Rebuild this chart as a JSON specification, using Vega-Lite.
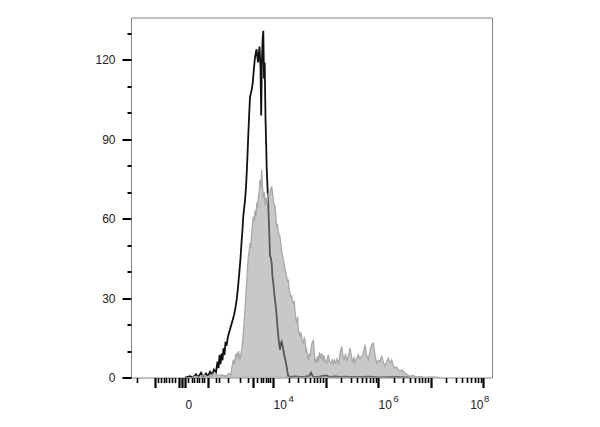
{
  "$schema": "https://vega.github.io/schema/vega-lite/v6.json",
  "autosize": {"type": "none"},
  "padding": {"left": 131, "top": 17.5, "right": 108, "bottom": 49.5},
  "width": 361,
  "height": 360,
  "background": "white",
  "config": {
    "view": {"stroke": "#858585", "strokeWidth": 1},
    "font": "Liberation Sans",
    "axis": {"labelFont": "Liberation Sans", "labelColor": "#222222", "tickColor": "#000000", "domain": false, "grid": false, "title": null}
  },
  "resolve": {"axis": {"x": "independent"}},
  "datasets": {
    "hist": [
      {"series": "control", "x": 2.324, "count": 0},
      {"series": "control", "x": 2.419, "count": 0.5},
      {"series": "control", "x": 2.476, "count": 0},
      {"series": "control", "x": 2.533, "count": 1.2},
      {"series": "control", "x": 2.571, "count": 0},
      {"series": "control", "x": 2.629, "count": 1.8},
      {"series": "control", "x": 2.667, "count": 0.3},
      {"series": "control", "x": 2.724, "count": 1.5},
      {"series": "control", "x": 2.762, "count": 0.4},
      {"series": "control", "x": 2.8, "count": 2.2},
      {"series": "control", "x": 2.838, "count": 1.0},
      {"series": "control", "x": 2.876, "count": 3.0},
      {"series": "control", "x": 2.914, "count": 2.0},
      {"series": "control", "x": 2.943, "count": 6.0},
      {"series": "control", "x": 2.962, "count": 3.5},
      {"series": "control", "x": 2.981, "count": 8.5},
      {"series": "control", "x": 3.0, "count": 5.0},
      {"series": "control", "x": 3.019, "count": 9.0},
      {"series": "control", "x": 3.038, "count": 6.5},
      {"series": "control", "x": 3.057, "count": 11.0},
      {"series": "control", "x": 3.076, "count": 8.5},
      {"series": "control", "x": 3.095, "count": 13.5},
      {"series": "control", "x": 3.114, "count": 12.0},
      {"series": "control", "x": 3.143, "count": 15.5},
      {"series": "control", "x": 3.171, "count": 17.5},
      {"series": "control", "x": 3.2, "count": 19.5},
      {"series": "control", "x": 3.229, "count": 21.5},
      {"series": "control", "x": 3.257, "count": 23.5},
      {"series": "control", "x": 3.286, "count": 26.5},
      {"series": "control", "x": 3.309, "count": 29.5},
      {"series": "control", "x": 3.333, "count": 34},
      {"series": "control", "x": 3.358, "count": 39.5},
      {"series": "control", "x": 3.381, "count": 45},
      {"series": "control", "x": 3.404, "count": 52},
      {"series": "control", "x": 3.419, "count": 56},
      {"series": "control", "x": 3.434, "count": 61},
      {"series": "control", "x": 3.451, "count": 64},
      {"series": "control", "x": 3.467, "count": 67},
      {"series": "control", "x": 3.486, "count": 72},
      {"series": "control", "x": 3.499, "count": 77},
      {"series": "control", "x": 3.514, "count": 84},
      {"series": "control", "x": 3.53, "count": 92},
      {"series": "control", "x": 3.543, "count": 98},
      {"series": "control", "x": 3.562, "count": 106},
      {"series": "control", "x": 3.587, "count": 108},
      {"series": "control", "x": 3.613, "count": 111},
      {"series": "control", "x": 3.634, "count": 116},
      {"series": "control", "x": 3.657, "count": 121},
      {"series": "control", "x": 3.686, "count": 124},
      {"series": "control", "x": 3.714, "count": 119},
      {"series": "control", "x": 3.743, "count": 125},
      {"series": "control", "x": 3.762, "count": 117},
      {"series": "control", "x": 3.775, "count": 99},
      {"series": "control", "x": 3.787, "count": 118},
      {"series": "control", "x": 3.8, "count": 127},
      {"series": "control", "x": 3.815, "count": 131},
      {"series": "control", "x": 3.829, "count": 113},
      {"series": "control", "x": 3.842, "count": 119},
      {"series": "control", "x": 3.857, "count": 98},
      {"series": "control", "x": 3.87, "count": 88},
      {"series": "control", "x": 3.88, "count": 79},
      {"series": "control", "x": 3.895, "count": 72},
      {"series": "control", "x": 3.91, "count": 65},
      {"series": "control", "x": 3.928, "count": 55},
      {"series": "control", "x": 3.943, "count": 46},
      {"series": "control", "x": 3.962, "count": 45},
      {"series": "control", "x": 3.975, "count": 43},
      {"series": "control", "x": 3.99, "count": 38},
      {"series": "control", "x": 4.006, "count": 35.7},
      {"series": "control", "x": 4.023, "count": 32},
      {"series": "control", "x": 4.038, "count": 29.3},
      {"series": "control", "x": 4.057, "count": 26},
      {"series": "control", "x": 4.07, "count": 23},
      {"series": "control", "x": 4.086, "count": 19},
      {"series": "control", "x": 4.101, "count": 15.5},
      {"series": "control", "x": 4.118, "count": 12.5},
      {"series": "control", "x": 4.133, "count": 10.5},
      {"series": "control", "x": 4.149, "count": 13},
      {"series": "control", "x": 4.166, "count": 13.6},
      {"series": "control", "x": 4.181, "count": 12},
      {"series": "control", "x": 4.196, "count": 10.5},
      {"series": "control", "x": 4.219, "count": 8},
      {"series": "control", "x": 4.248, "count": 5.5},
      {"series": "control", "x": 4.272, "count": 2.5},
      {"series": "control", "x": 4.291, "count": 0.5},
      {"series": "control", "x": 4.343, "count": 0.2},
      {"series": "control", "x": 4.419, "count": 0.4},
      {"series": "control", "x": 4.514, "count": 0.2},
      {"series": "control", "x": 4.61, "count": 0.3},
      {"series": "control", "x": 4.686, "count": 0.5},
      {"series": "control", "x": 4.724, "count": 1.8},
      {"series": "control", "x": 4.762, "count": 0.3},
      {"series": "control", "x": 4.857, "count": 0.2},
      {"series": "control", "x": 4.933, "count": 0.5},
      {"series": "control", "x": 5.01, "count": 0.8},
      {"series": "control", "x": 5.086, "count": 0.2},
      {"series": "control", "x": 5.181, "count": 0.4},
      {"series": "control", "x": 5.276, "count": 0.2},
      {"series": "control", "x": 5.371, "count": 0.3},
      {"series": "control", "x": 5.467, "count": 0.2},
      {"series": "control", "x": 5.657, "count": 0.2},
      {"series": "control", "x": 5.848, "count": 0.3},
      {"series": "control", "x": 6.038, "count": 0},
      {"series": "control", "x": 6.324, "count": 0.2},
      {"series": "control", "x": 6.61, "count": 0},

      {"series": "stained", "x": 2.457, "count": 0},
      {"series": "stained", "x": 2.533, "count": 0.5},
      {"series": "stained", "x": 2.61, "count": 0},
      {"series": "stained", "x": 2.686, "count": 1.2},
      {"series": "stained", "x": 2.743, "count": 0.2},
      {"series": "stained", "x": 2.819, "count": 0.8},
      {"series": "stained", "x": 2.876, "count": 1.5},
      {"series": "stained", "x": 2.952, "count": 0.8},
      {"series": "stained", "x": 3.029, "count": 1.0},
      {"series": "stained", "x": 3.105, "count": 0.5},
      {"series": "stained", "x": 3.162, "count": 1.5},
      {"series": "stained", "x": 3.2, "count": 1.0},
      {"series": "stained", "x": 3.219, "count": 4},
      {"series": "stained", "x": 3.244, "count": 6.7},
      {"series": "stained", "x": 3.267, "count": 5},
      {"series": "stained", "x": 3.286, "count": 8.5},
      {"series": "stained", "x": 3.309, "count": 9},
      {"series": "stained", "x": 3.324, "count": 7},
      {"series": "stained", "x": 3.343, "count": 10},
      {"series": "stained", "x": 3.358, "count": 8},
      {"series": "stained", "x": 3.371, "count": 6.7},
      {"series": "stained", "x": 3.39, "count": 9},
      {"series": "stained", "x": 3.404, "count": 10.5},
      {"series": "stained", "x": 3.419, "count": 13},
      {"series": "stained", "x": 3.434, "count": 16.7},
      {"series": "stained", "x": 3.451, "count": 21},
      {"series": "stained", "x": 3.467, "count": 25.6},
      {"series": "stained", "x": 3.482, "count": 31},
      {"series": "stained", "x": 3.499, "count": 35.7},
      {"series": "stained", "x": 3.514, "count": 41},
      {"series": "stained", "x": 3.53, "count": 45.7},
      {"series": "stained", "x": 3.547, "count": 48},
      {"series": "stained", "x": 3.562, "count": 50.8},
      {"series": "stained", "x": 3.577, "count": 49},
      {"series": "stained", "x": 3.594, "count": 54.6},
      {"series": "stained", "x": 3.61, "count": 58},
      {"series": "stained", "x": 3.625, "count": 60.8},
      {"series": "stained", "x": 3.642, "count": 59},
      {"series": "stained", "x": 3.657, "count": 63},
      {"series": "stained", "x": 3.676, "count": 61},
      {"series": "stained", "x": 3.69, "count": 66},
      {"series": "stained", "x": 3.705, "count": 64},
      {"series": "stained", "x": 3.72, "count": 68},
      {"series": "stained", "x": 3.737, "count": 70},
      {"series": "stained", "x": 3.752, "count": 74.7},
      {"series": "stained", "x": 3.768, "count": 72},
      {"series": "stained", "x": 3.785, "count": 78.5},
      {"series": "stained", "x": 3.8, "count": 72},
      {"series": "stained", "x": 3.815, "count": 68},
      {"series": "stained", "x": 3.832, "count": 70},
      {"series": "stained", "x": 3.848, "count": 65},
      {"series": "stained", "x": 3.867, "count": 68},
      {"series": "stained", "x": 3.886, "count": 66},
      {"series": "stained", "x": 3.91, "count": 69.7},
      {"series": "stained", "x": 3.933, "count": 68},
      {"series": "stained", "x": 3.952, "count": 71},
      {"series": "stained", "x": 3.975, "count": 72.2},
      {"series": "stained", "x": 3.994, "count": 69},
      {"series": "stained", "x": 4.01, "count": 66},
      {"series": "stained", "x": 4.038, "count": 64.6},
      {"series": "stained", "x": 4.057, "count": 60},
      {"series": "stained", "x": 4.07, "count": 57},
      {"series": "stained", "x": 4.086, "count": 58},
      {"series": "stained", "x": 4.101, "count": 55},
      {"series": "stained", "x": 4.118, "count": 54},
      {"series": "stained", "x": 4.133, "count": 53.3},
      {"series": "stained", "x": 4.152, "count": 50},
      {"series": "stained", "x": 4.171, "count": 47},
      {"series": "stained", "x": 4.196, "count": 44.5},
      {"series": "stained", "x": 4.219, "count": 42},
      {"series": "stained", "x": 4.238, "count": 40},
      {"series": "stained", "x": 4.261, "count": 38.2},
      {"series": "stained", "x": 4.276, "count": 36},
      {"series": "stained", "x": 4.291, "count": 37},
      {"series": "stained", "x": 4.309, "count": 33},
      {"series": "stained", "x": 4.324, "count": 31.9},
      {"series": "stained", "x": 4.343, "count": 30},
      {"series": "stained", "x": 4.356, "count": 31},
      {"series": "stained", "x": 4.371, "count": 28.5},
      {"series": "stained", "x": 4.387, "count": 28.1},
      {"series": "stained", "x": 4.404, "count": 29},
      {"series": "stained", "x": 4.419, "count": 25},
      {"series": "stained", "x": 4.434, "count": 22},
      {"series": "stained", "x": 4.451, "count": 20.6},
      {"series": "stained", "x": 4.467, "count": 23},
      {"series": "stained", "x": 4.482, "count": 18},
      {"series": "stained", "x": 4.499, "count": 17},
      {"series": "stained", "x": 4.514, "count": 15.5},
      {"series": "stained", "x": 4.533, "count": 17},
      {"series": "stained", "x": 4.552, "count": 14},
      {"series": "stained", "x": 4.577, "count": 13},
      {"series": "stained", "x": 4.594, "count": 15},
      {"series": "stained", "x": 4.61, "count": 14.2},
      {"series": "stained", "x": 4.629, "count": 10},
      {"series": "stained", "x": 4.642, "count": 10.5},
      {"series": "stained", "x": 4.657, "count": 8.5},
      {"series": "stained", "x": 4.672, "count": 6.7},
      {"series": "stained", "x": 4.69, "count": 9},
      {"series": "stained", "x": 4.705, "count": 7.9},
      {"series": "stained", "x": 4.724, "count": 11},
      {"series": "stained", "x": 4.743, "count": 13},
      {"series": "stained", "x": 4.768, "count": 14.2},
      {"series": "stained", "x": 4.785, "count": 10},
      {"series": "stained", "x": 4.8, "count": 5.4},
      {"series": "stained", "x": 4.819, "count": 7},
      {"series": "stained", "x": 4.832, "count": 5.4},
      {"series": "stained", "x": 4.848, "count": 8},
      {"series": "stained", "x": 4.867, "count": 6},
      {"series": "stained", "x": 4.886, "count": 9.5},
      {"series": "stained", "x": 4.905, "count": 7},
      {"series": "stained", "x": 4.928, "count": 9.2},
      {"series": "stained", "x": 4.952, "count": 6},
      {"series": "stained", "x": 4.971, "count": 8.5},
      {"series": "stained", "x": 4.99, "count": 6.5},
      {"series": "stained", "x": 5.019, "count": 5.5},
      {"series": "stained", "x": 5.053, "count": 8.6},
      {"series": "stained", "x": 5.076, "count": 6},
      {"series": "stained", "x": 5.105, "count": 5.5},
      {"series": "stained", "x": 5.133, "count": 7},
      {"series": "stained", "x": 5.149, "count": 4.8},
      {"series": "stained", "x": 5.171, "count": 6.5},
      {"series": "stained", "x": 5.19, "count": 5.5},
      {"series": "stained", "x": 5.219, "count": 7},
      {"series": "stained", "x": 5.248, "count": 5},
      {"series": "stained", "x": 5.276, "count": 9},
      {"series": "stained", "x": 5.309, "count": 11.7},
      {"series": "stained", "x": 5.333, "count": 8},
      {"series": "stained", "x": 5.356, "count": 6.5},
      {"series": "stained", "x": 5.381, "count": 9},
      {"series": "stained", "x": 5.41, "count": 6},
      {"series": "stained", "x": 5.434, "count": 8},
      {"series": "stained", "x": 5.467, "count": 11.1},
      {"series": "stained", "x": 5.495, "count": 8},
      {"series": "stained", "x": 5.514, "count": 6},
      {"series": "stained", "x": 5.543, "count": 7.5},
      {"series": "stained", "x": 5.562, "count": 5.4},
      {"series": "stained", "x": 5.59, "count": 7},
      {"series": "stained", "x": 5.625, "count": 8.6},
      {"series": "stained", "x": 5.657, "count": 7},
      {"series": "stained", "x": 5.686, "count": 8},
      {"series": "stained", "x": 5.72, "count": 9},
      {"series": "stained", "x": 5.752, "count": 12.4},
      {"series": "stained", "x": 5.781, "count": 8.5},
      {"series": "stained", "x": 5.815, "count": 6.7},
      {"series": "stained", "x": 5.848, "count": 10},
      {"series": "stained", "x": 5.88, "count": 12.4},
      {"series": "stained", "x": 5.91, "count": 13},
      {"series": "stained", "x": 5.943, "count": 8.5},
      {"series": "stained", "x": 5.975, "count": 5.4},
      {"series": "stained", "x": 6.01, "count": 6.5},
      {"series": "stained", "x": 6.038, "count": 6},
      {"series": "stained", "x": 6.07, "count": 7.9},
      {"series": "stained", "x": 6.101, "count": 6},
      {"series": "stained", "x": 6.133, "count": 4.2},
      {"series": "stained", "x": 6.166, "count": 6},
      {"series": "stained", "x": 6.196, "count": 7.3},
      {"series": "stained", "x": 6.229, "count": 5.5},
      {"series": "stained", "x": 6.261, "count": 6.7},
      {"series": "stained", "x": 6.291, "count": 4.5},
      {"series": "stained", "x": 6.324, "count": 3.5},
      {"series": "stained", "x": 6.356, "count": 4},
      {"series": "stained", "x": 6.387, "count": 2.9},
      {"series": "stained", "x": 6.419, "count": 2.5},
      {"series": "stained", "x": 6.457, "count": 2.8},
      {"series": "stained", "x": 6.514, "count": 1.7},
      {"series": "stained", "x": 6.552, "count": 1.2},
      {"series": "stained", "x": 6.61, "count": 0.4},
      {"series": "stained", "x": 6.667, "count": 0.8},
      {"series": "stained", "x": 6.724, "count": 0.2},
      {"series": "stained", "x": 6.8, "count": 0.4},
      {"series": "stained", "x": 6.876, "count": 0},
      {"series": "stained", "x": 6.99, "count": 0.2},
      {"series": "stained", "x": 7.181, "count": 0}
    ]
  },
  "data": {"name": "hist"},
  "encoding": {
    "y": {
      "field": "count",
      "type": "quantitative",
      "scale": {"domain": [0, 136], "nice": false},
      "axis": {
        "values": [0, 10, 20, 30, 40, 50, 60, 70, 80, 90, 100, 110, 120, 130],
        "labelExpr": "datum.value % 30 == 0 ? datum.label : ''",
        "labelFontSize": 12,
        "labelPadding": 7,
        "labelOverlap": false,
        "labelFlush": false,
        "tickSize": {"condition": {"test": "datum.value % 30 == 0", "value": 9}, "value": 4},
        "tickWidth": 2
      }
    }
  },
  "layer": [
    {
      "transform": [{"filter": "datum.series == 'control'"}],
      "mark": {"type": "line", "color": "#111111", "strokeWidth": 1.8, "clip": true},
      "encoding": {
        "x": {
          "field": "x",
          "type": "quantitative",
          "scale": {"domain": [1.2952, 8.1714], "nice": false, "zero": false},
          "axis": {
            "orient": "bottom",
            "values": [1.415, 1.743, 1.81, 1.867, 1.924, 1.971, 2.019, 2.076, 2.133, 2.21, 2.267, 2.324, 2.39, 2.448, 2.495, 2.543, 2.59, 2.648, 2.695, 2.771, 2.914, 2.971, 3.149, 3.371, 3.524, 3.613, 3.701, 3.771, 3.819, 3.867, 3.905, 3.943, 4, 4.301, 4.477, 4.602, 4.699, 4.778, 4.845, 4.903, 4.954, 5, 5.301, 5.477, 5.602, 5.699, 5.778, 5.845, 5.903, 5.954, 6, 6.301, 6.477, 6.602, 6.699, 6.778, 6.845, 6.903, 6.954, 7, 7.301, 7.477, 7.602, 7.699, 7.778, 7.845, 7.903, 7.954, 8],
            "labelExpr": "datum.value == 2.267 ? '0' : (datum.value == 4 || datum.value == 6 || datum.value == 8) ? '10' : ''",
            "labelOverlap": false,
            "labelFlush": false,
            "labelBound": false,
            "labelFontSize": 12,
            "labelAlign": {"condition": {"test": "datum.value == 8", "value": "right"}, "value": "left"},
            "labelOffset": {"condition": {"test": "datum.value == 2.267", "value": 3}, "value": 0},
            "labelDx": 1,
            "labelPadding": 12,
            "tickSize": {"condition": {"test": "indexof([1.743, 2.21, 2.267, 2.324, 2.771, 3.613, 4, 5, 6, 7, 8], datum.value) >= 0", "value": 10}, "value": 5},
            "tickWidth": {"condition": {"test": "indexof([1.743, 2.21, 2.267, 2.324, 2.771, 3.613, 4, 5, 6, 7, 8], datum.value) >= 0", "value": 2.2}, "value": 1.6}
          }
        }
      }
    },
    {
      "transform": [{"filter": "datum.series == 'stained'"}],
      "mark": {"type": "area", "fill": "#979797", "fillOpacity": 0.53, "stroke": "#a8a8a8", "strokeWidth": 1.3, "clip": true},
      "encoding": {
        "x": {
          "field": "x",
          "type": "quantitative",
          "axis": {
            "orient": "bottom",
            "values": [4, 6, 8],
            "labelExpr": "datum.value == 4 ? '4' : datum.value == 6 ? '6' : '8'",
            "labelOverlap": false,
            "labelFlush": false,
            "labelBound": false,
            "labelFontSize": 9.5,
            "labelAlign": "left",
            "labelOffset": {"condition": {"test": "datum.value == 8", "value": 0.5}, "value": 15},
            "ticks": false,
            "tickSize": 0,
            "labelPadding": 16
          }
        }
      }
    }
  ]
}
